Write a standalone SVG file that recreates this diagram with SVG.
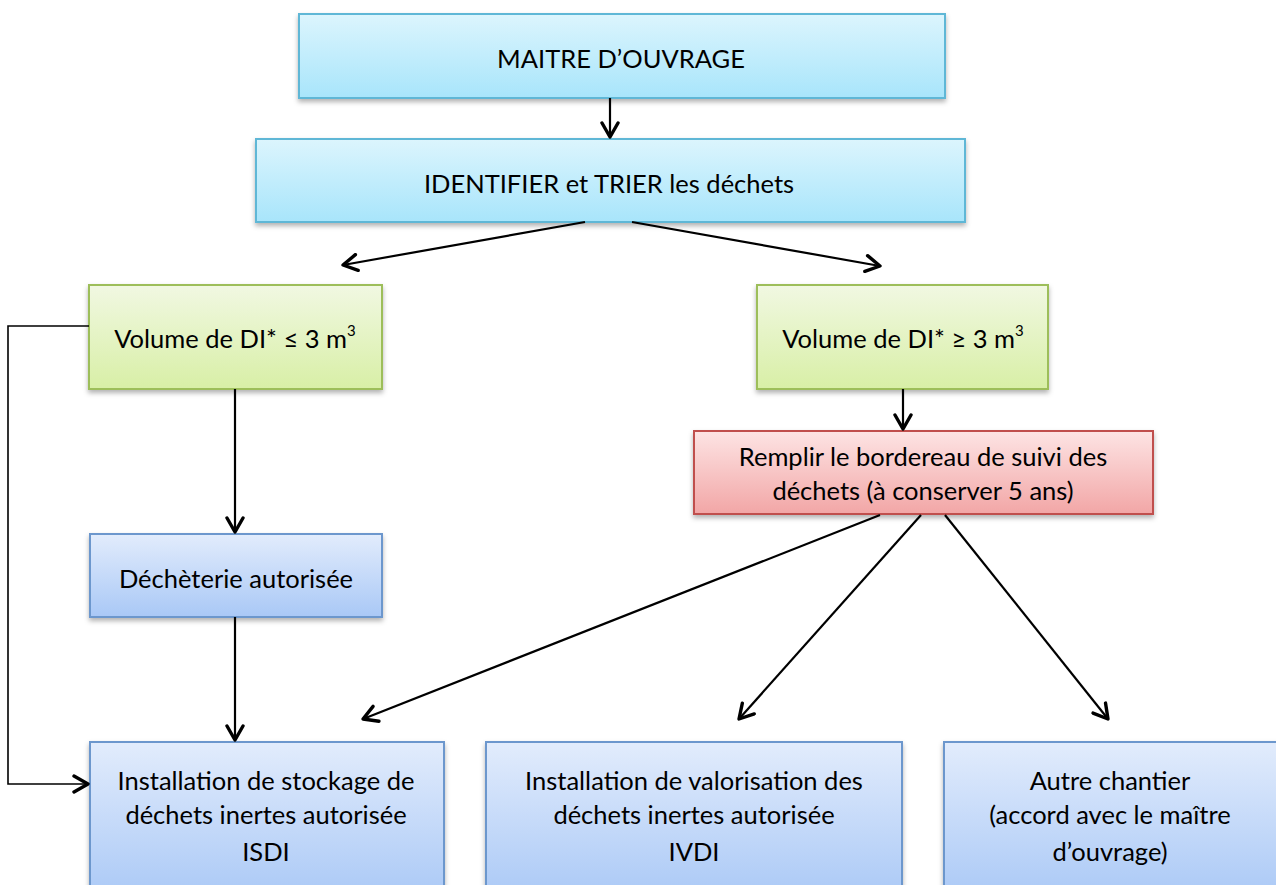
<svg xmlns="http://www.w3.org/2000/svg" width="1276" height="885" viewBox="0 0 1276 885">
<defs>
<linearGradient id="gCyan" x1="0" y1="0" x2="0" y2="1"><stop offset="0" stop-color="#dcf5fd"/><stop offset="1" stop-color="#a8e5fb"/></linearGradient>
<linearGradient id="gGreen" x1="0" y1="0" x2="0" y2="1"><stop offset="0" stop-color="#f1f8e2"/><stop offset="1" stop-color="#d8efa6"/></linearGradient>
<linearGradient id="gRed" x1="0" y1="0" x2="0" y2="1"><stop offset="0" stop-color="#fde4e4"/><stop offset="1" stop-color="#f2a6a6"/></linearGradient>
<linearGradient id="gBlue" x1="0" y1="0" x2="0" y2="1"><stop offset="0" stop-color="#e2ecfc"/><stop offset="1" stop-color="#a9c8f6"/></linearGradient>
<filter id="sh" x="-5%" y="-10%" width="110%" height="130%"><feDropShadow dx="0" dy="3" stdDeviation="2.5" flood-color="#000" flood-opacity="0.3"/></filter>
<marker id="arr" viewBox="0 0 20 20" refX="17" refY="10" markerWidth="20" markerHeight="20" markerUnits="userSpaceOnUse" orient="auto"><path d="M3,2 L17,10 L3,18" fill="none" stroke="#000" stroke-width="3.4" stroke-linecap="round" stroke-linejoin="round"/></marker>
</defs>
<style>
.t{font-family:Lato,"Open Sans","Liberation Sans",sans-serif;font-size:25.5px;fill:#000;text-anchor:middle}
.cy{fill:url(#gCyan);stroke:#5fb7d6;stroke-width:2}
.gr{fill:url(#gGreen);stroke:#9dbe5a;stroke-width:2}
.rd{fill:url(#gRed);stroke:#c0504d;stroke-width:2}
.bl{fill:url(#gBlue);stroke:#6c97cd;stroke-width:2}
.c{fill:none;stroke:#000;stroke-width:2.2;marker-end:url(#arr)}
.ct{stroke-width:1.6}
</style>
<rect width="1276" height="885" fill="#fff"/>
<g id="n-maitre"><rect class="cy" x="299" y="14" width="646" height="84" filter="url(#sh)"/><text class="t" x="621" y="68">MAITRE D’OUVRAGE</text></g>
<g id="n-identifier"><rect class="cy" x="256" y="139" width="709" height="83" filter="url(#sh)"/><text class="t" x="609" y="193">IDENTIFIER et TRIER les déchets</text></g>
<g id="n-vol-le"><rect class="gr" x="89" y="285" width="293" height="104" filter="url(#sh)"/><text class="t" x="235" y="348">Volume de DI* ≤ 3 m<tspan font-size="15" dy="-12">3</tspan></text></g>
<g id="n-vol-ge"><rect class="gr" x="757" y="285" width="291" height="104" filter="url(#sh)"/><text class="t" x="903" y="348">Volume de DI* ≥ 3 m<tspan font-size="15" dy="-12">3</tspan></text></g>
<g id="n-bordereau"><rect class="rd" x="694" y="431" width="459" height="83" filter="url(#sh)"/><text class="t" x="923" y="466">Remplir le bordereau de suivi des</text><text class="t" x="923" y="500">déchets (à conserver 5 ans)</text></g>
<g id="n-decheterie"><rect class="bl" x="90" y="534" width="292" height="83" filter="url(#sh)"/><text class="t" x="236" y="588">Déchèterie autorisée</text></g>
<g id="n-isdi"><rect class="bl" x="90" y="742" width="354" height="160" filter="url(#sh)"/><text class="t" x="266" y="790">Installation de stockage de</text><text class="t" x="266" y="824">déchets inertes autorisée</text><text class="t" x="266" y="861">ISDI</text></g>
<g id="n-ivdi"><rect class="bl" x="486" y="742" width="416" height="160" filter="url(#sh)"/><text class="t" x="694" y="790">Installation de valorisation des</text><text class="t" x="694" y="824">déchets inertes autorisée</text><text class="t" x="694" y="861">IVDI</text></g>
<g id="n-autre"><rect class="bl" x="944" y="742" width="350" height="160" filter="url(#sh)"/><text class="t" x="1110" y="790">Autre chantier</text><text class="t" x="1110" y="824">(accord avec le maître</text><text class="t" x="1110" y="861">d’ouvrage)</text></g>
<g id="connectors">
<path class="c" d="M610,98 L610,137"/>
<path class="c" d="M585,222 L343,265"/>
<path class="c" d="M632,222 L880,266"/>
<path class="c" d="M903,389 L903,429"/>
<path class="c" d="M235,389 L235,532"/>
<path class="c" d="M235,617 L235,740"/>
<path class="c ct" d="M89,326 L8,326 L8,784 L88,784"/>
<path class="c" d="M880,515 L363,719"/>
<path class="c" d="M921,515 L739,719"/>
<path class="c" d="M945,515 L1108,719"/>
</g>
</svg>
